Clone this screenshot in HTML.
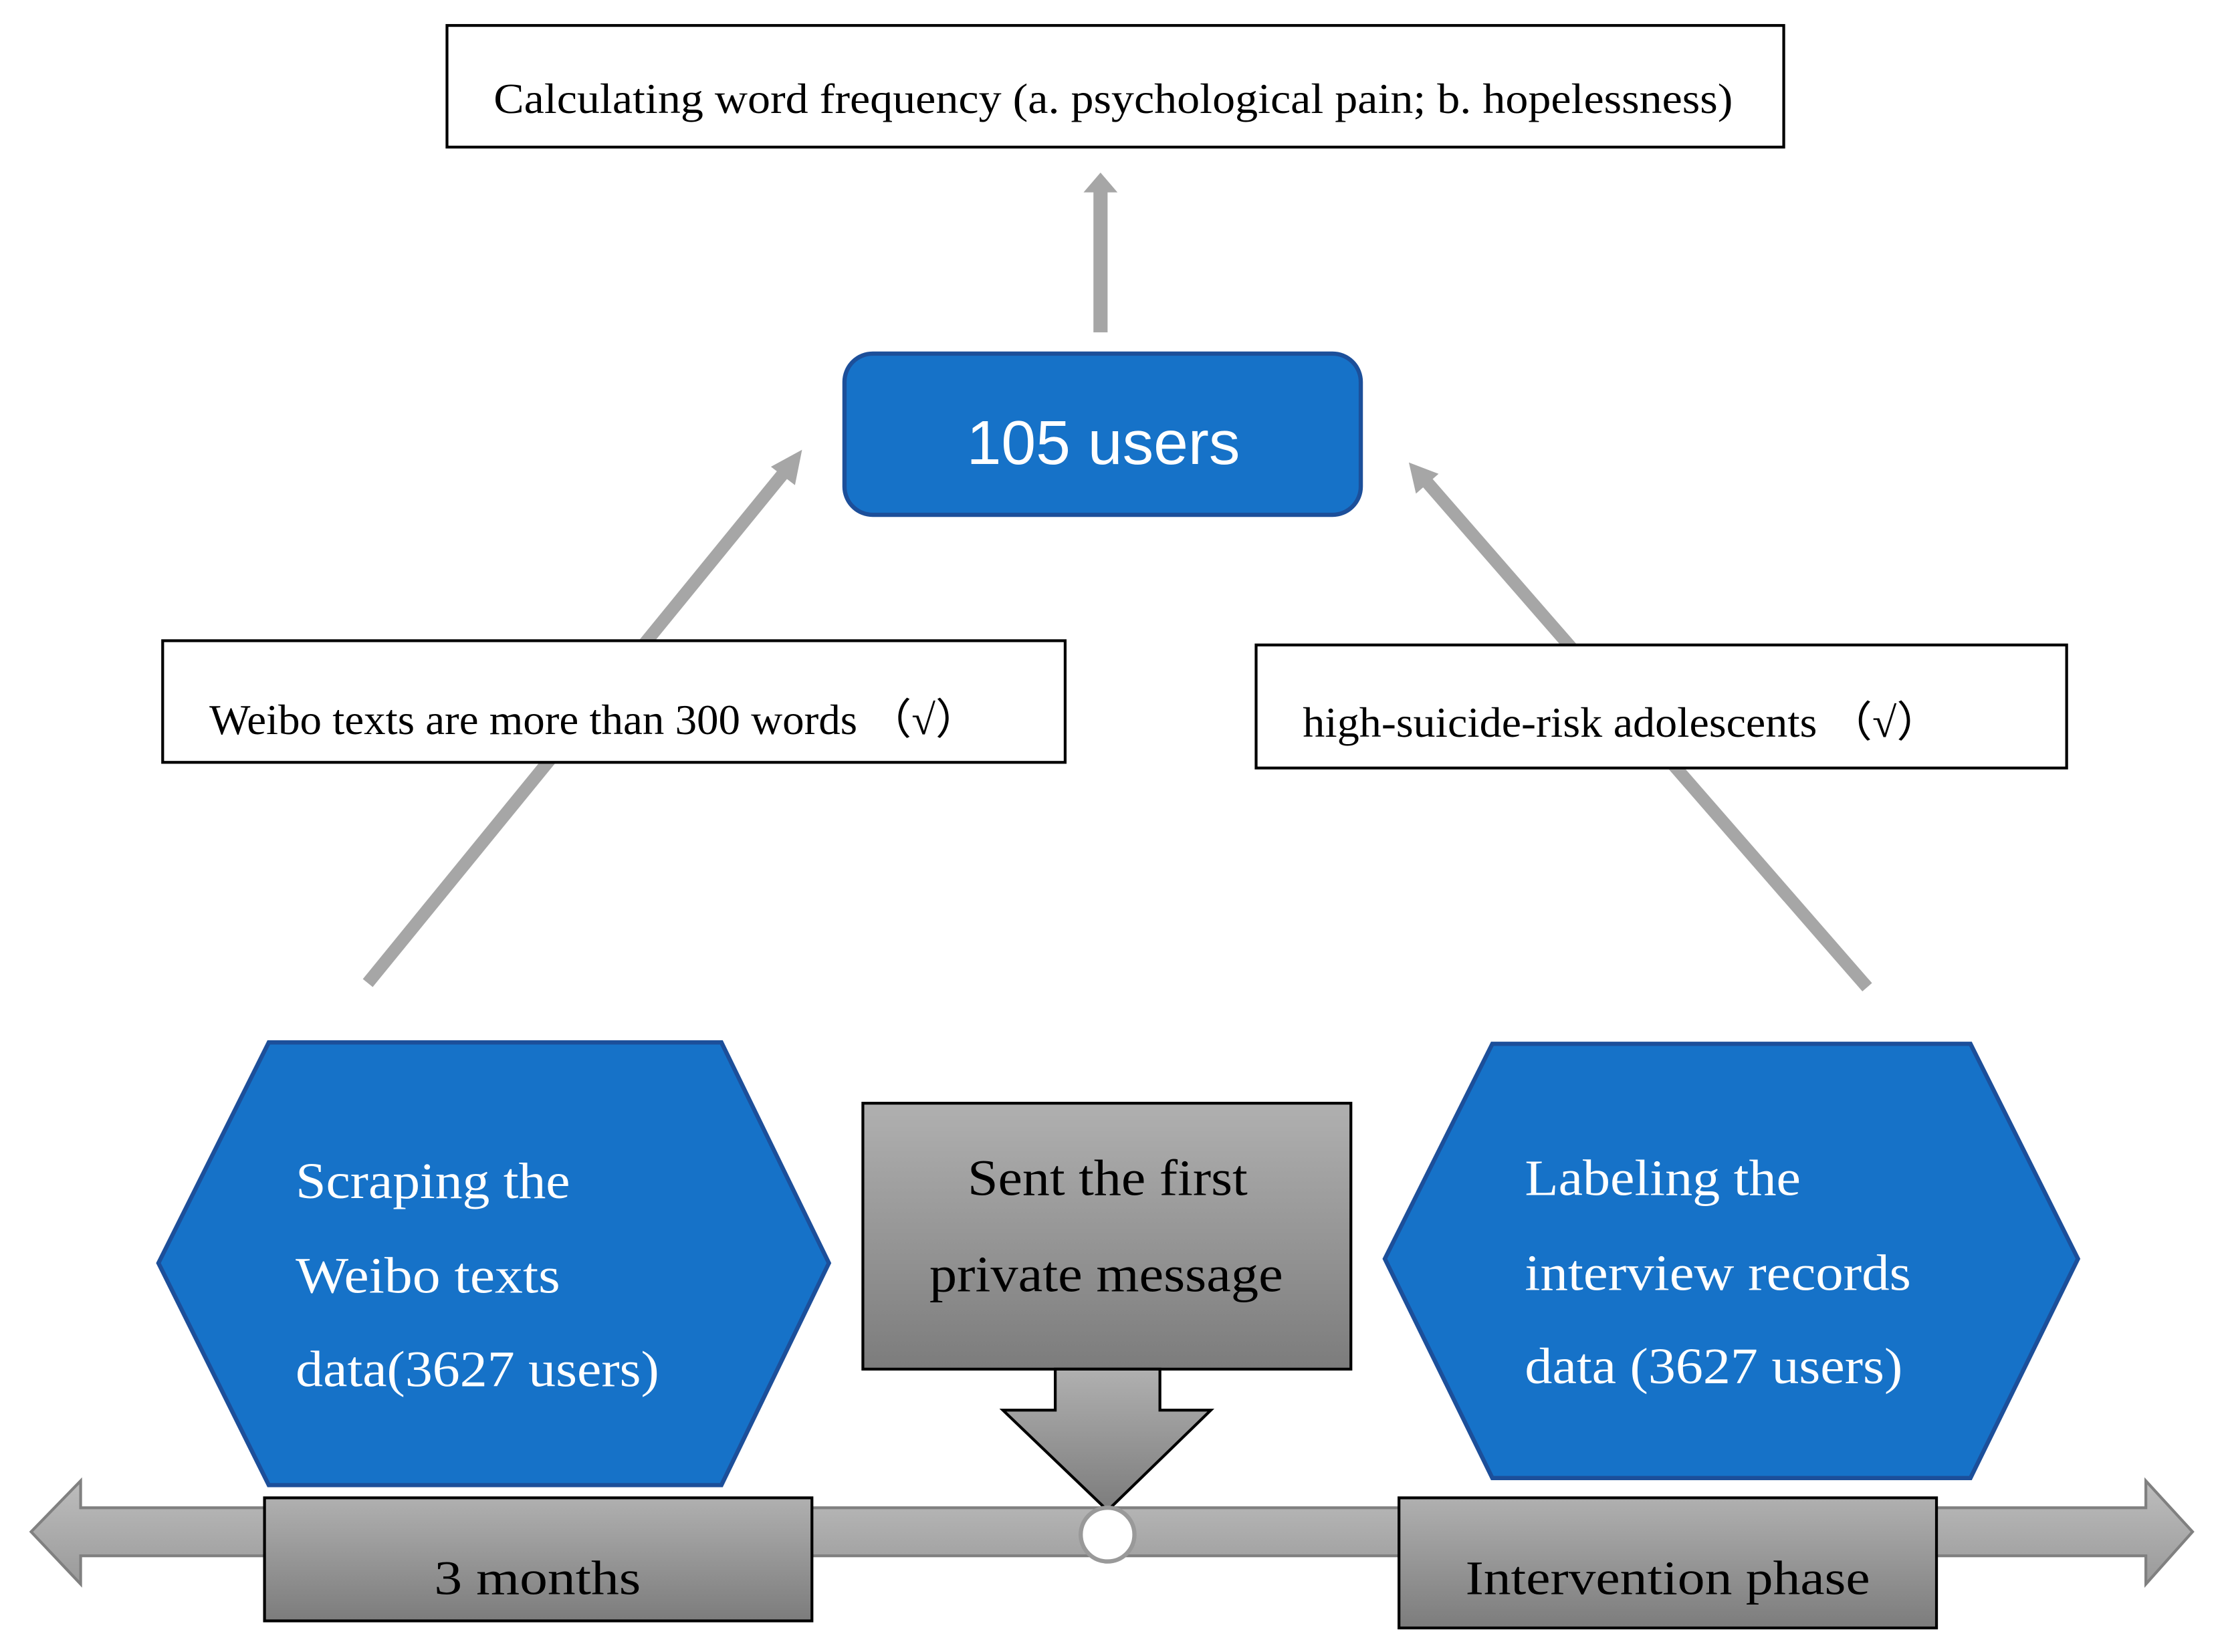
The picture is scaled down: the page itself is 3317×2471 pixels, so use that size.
<!DOCTYPE html>
<html><head><meta charset="utf-8"><style>html,body{margin:0;padding:0;background:#fff}svg{display:block}</style></head>
<body>
<svg width="3317" height="2471" viewBox="0 0 1568 1168" preserveAspectRatio="none" xmlns="http://www.w3.org/2000/svg">
<defs>
<linearGradient id="g" x1="0" y1="0" x2="0" y2="1"><stop offset="0" stop-color="#b0b0b0"/><stop offset="1" stop-color="#7c7c7c"/></linearGradient>
<linearGradient id="tl" x1="0" y1="0" x2="0" y2="1"><stop offset="0" stop-color="#bdbdbd"/><stop offset="1" stop-color="#9a9a9a"/></linearGradient>
</defs>
<g font-family="Liberation Serif, serif" lengthAdjust="spacingAndGlyphs">
<rect x="316" y="18" width="945" height="86" fill="#fff" stroke="#000" stroke-width="2"/>
<text x="349" y="80" font-size="30" textLength="876" lengthAdjust="spacingAndGlyphs">Calculating word frequency (a. psychological pain; b. hopelessness)</text>
<line x1="778" y1="235" x2="778" y2="135" stroke="#a6a6a6" stroke-width="10"/>
<polygon points="766,136 790,136 778,122" fill="#a6a6a6"/>
<line x1="260" y1="695" x2="556" y2="332" stroke="#a6a6a6" stroke-width="9"/>
<polygon points="567,318 545,330 562,343" fill="#a6a6a6"/>
<line x1="1320" y1="698" x2="1008" y2="340" stroke="#a6a6a6" stroke-width="9"/>
<polygon points="996,327 1001,349 1017,335" fill="#a6a6a6"/>
<rect x="597" y="250" width="365" height="114" rx="20" fill="#1672c8" stroke="#1c4f9a" stroke-width="3"/>
<text x="780" y="328" font-size="44" fill="#fff" text-anchor="middle" font-family="Liberation Sans, sans-serif">105 users</text>
<rect x="115" y="453" width="638" height="86" fill="#fff" stroke="#000" stroke-width="2"/>
<text x="148" y="519" font-size="30" textLength="544" lengthAdjust="spacingAndGlyphs">Weibo texts are more than 300 words （√）</text>
<rect x="888" y="456" width="573" height="87" fill="#fff" stroke="#000" stroke-width="2"/>
<text x="921" y="521" font-size="30" textLength="451" lengthAdjust="spacingAndGlyphs">high-suicide-risk adolescents （√）</text>
<polygon points="190,737 510,737 586,893 510,1050 190,1050 112,893" fill="#1672c8" stroke="#1c4f9a" stroke-width="3"/>
<g fill="#fff" font-size="36">
<text x="209" y="847" textLength="194" lengthAdjust="spacingAndGlyphs">Scraping the</text>
<text x="209" y="914" textLength="187" lengthAdjust="spacingAndGlyphs">Weibo texts</text>
<text x="209" y="980" textLength="257" lengthAdjust="spacingAndGlyphs">data(3627 users)</text>
</g>
<polygon points="1055,738 1393,738 1469,890 1393,1045 1055,1045 979,890" fill="#1672c8" stroke="#1c4f9a" stroke-width="3"/>
<g fill="#fff" font-size="36">
<text x="1078" y="845" textLength="195" lengthAdjust="spacingAndGlyphs">Labeling the</text>
<text x="1078" y="912" textLength="273" lengthAdjust="spacingAndGlyphs">interview records</text>
<text x="1078" y="978" textLength="267" lengthAdjust="spacingAndGlyphs">data (3627 users)</text>
</g>
<polygon points="57,1066 57,1047 22,1083 57,1120 57,1100 1517,1100 1517,1120 1550,1083 1517,1047 1517,1066" fill="url(#tl)" stroke="#808080" stroke-width="2"/>
<rect x="610" y="780" width="345" height="188" fill="url(#g)" stroke="#000" stroke-width="2"/>
<polygon points="746,968 820,968 820,997 856,997 783,1068 709,997 746,997" fill="url(#g)" stroke="#000" stroke-width="2"/>
<text x="684" y="845" font-size="36" textLength="198" lengthAdjust="spacingAndGlyphs">Sent the first</text>
<text x="657" y="913" font-size="36" textLength="250" lengthAdjust="spacingAndGlyphs">private message</text>
<circle cx="783" cy="1085" r="19" fill="#fff" stroke="#999" stroke-width="3"/>
<rect x="187" y="1059" width="387" height="87" fill="url(#g)" stroke="#000" stroke-width="2"/>
<text x="307" y="1127" font-size="34" textLength="146" lengthAdjust="spacingAndGlyphs">3 months</text>
<rect x="989" y="1059" width="380" height="92" fill="url(#g)" stroke="#000" stroke-width="2"/>
<text x="1036" y="1127" font-size="34" textLength="286" lengthAdjust="spacingAndGlyphs">Intervention phase</text>
</g>
</svg>
</body></html>
